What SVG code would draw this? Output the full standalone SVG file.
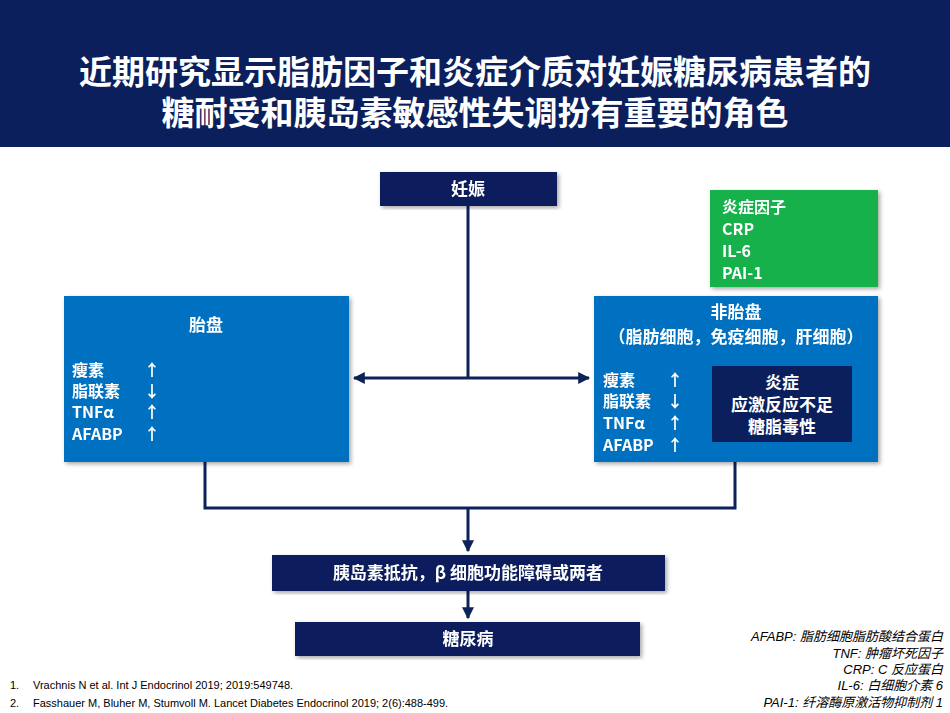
<svg xmlns="http://www.w3.org/2000/svg" width="950" height="713" viewBox="0 0 950 713">
<style>
text{font-family:"Noto Sans CJK SC","Liberation Sans",sans-serif;fill:#fff;font-weight:bold}
.t{font-size:33px}
.n{font-size:17px}
.m{font-size:16px}
.c{stroke:#0c2259;stroke-width:3;fill:none}
.ab{font-family:"Liberation Sans","Noto Sans CJK SC",sans-serif;font-size:13px;font-style:italic;font-weight:normal;fill:#000;text-anchor:end}
.fn{font-family:"Liberation Sans",sans-serif;font-size:11px;font-weight:normal;fill:#000}
</style>
<defs>
<marker id="a" viewBox="0 0 10 10" refX="9" refY="5" markerWidth="4" markerHeight="4" orient="auto-start-reverse"><path d="M0,0L10,5L0,10z" fill="#0c2259"/></marker>
<filter id="s"><feDropShadow dx="2" dy="2" stdDeviation="2" flood-opacity="0.35"/></filter>
</defs>
<rect width="950" height="713" fill="#fff"/>
<g id="title">
<rect x="0" y="0" width="950" height="147" fill="#0b1f5c"/>
<text class="t" x="475" y="84" text-anchor="middle">近期研究显示脂肪因子和炎症介质对妊娠糖尿病患者的</text>
<text class="t" x="475" y="125" text-anchor="middle">糖耐受和胰岛素敏感性失调扮有重要的角色</text>
</g>
<g id="connectors">
<path class="c" d="M468,206V378"/>
<path class="c" d="M468,378H354" marker-end="url(#a)"/>
<path class="c" d="M468,378H589" marker-end="url(#a)"/>
<path class="c" d="M205,462V508H735V462"/>
<path class="c" d="M468,508V551" marker-end="url(#a)"/>
<path class="c" d="M468,591V618" marker-end="url(#a)"/>
</g>
<g id="pregnancy" filter="url(#s)">
<rect x="380" y="172" width="177" height="34" fill="#0b1f5c"/>
<text class="n" x="468" y="195" text-anchor="middle">妊娠</text>
</g>
<g id="inflam-factors" filter="url(#s)">
<rect x="710" y="190" width="168" height="97" fill="#17b14c"/>
<text class="m" x="722" y="213">炎症因子</text>
<text class="m" x="722" y="235">CRP</text>
<text class="m" x="722" y="257">IL-6</text>
<text class="m" x="722" y="279">PAI-1</text>
</g>
<g id="placenta" filter="url(#s)">
<rect x="64" y="296" width="285" height="166" fill="#0070c0"/>
<text class="n" x="206" y="331" text-anchor="middle">胎盘</text>
<text class="m" x="72" y="376">瘦素</text><text class="m" x="144" y="376">↑</text>
<text class="m" x="72" y="397">脂联素</text><text class="m" x="144" y="397">↓</text>
<text class="m" x="72" y="418">TNFα</text><text class="m" x="144" y="418">↑</text>
<text class="m" x="72" y="440">AFABP</text><text class="m" x="144" y="440">↑</text>
</g>
<g id="non-placenta" filter="url(#s)">
<rect x="594" y="296" width="284" height="166" fill="#0070c0"/>
<text class="n" x="736" y="318" text-anchor="middle">非胎盘</text>
<text class="n" x="736" y="343" text-anchor="middle">（脂肪细胞，免疫细胞，肝细胞）</text>
<text class="m" x="603" y="386">瘦素</text><text class="m" x="667" y="386">↑</text>
<text class="m" x="603" y="407">脂联素</text><text class="m" x="667" y="407">↓</text>
<text class="m" x="603" y="429">TNFα</text><text class="m" x="667" y="429">↑</text>
<text class="m" x="603" y="451">AFABP</text><text class="m" x="667" y="451">↑</text>
</g>
<g id="inflammation">
<rect x="712" y="366" width="140" height="76" fill="#0b1f5c"/>
<text class="n" x="782" y="389" text-anchor="middle">炎症</text>
<text class="n" x="782" y="411" text-anchor="middle">应激反应不足</text>
<text class="n" x="782" y="433" text-anchor="middle">糖脂毒性</text>
</g>
<g id="resistance" filter="url(#s)">
<rect x="272" y="555" width="393" height="36" fill="#0b1f5c"/>
<text class="n" x="468" y="579" text-anchor="middle">胰岛素抵抗，β 细胞功能障碍或两者</text>
</g>
<g id="diabetes" filter="url(#s)">
<rect x="295" y="622" width="345" height="34" fill="#0b1f5c"/>
<text class="n" x="468" y="645" text-anchor="middle">糖尿病</text>
</g>
<g id="abbr">
<text class="ab" x="943" y="641">AFABP: 脂肪细胞脂肪酸结合蛋白</text>
<text class="ab" x="943" y="658">TNF: 肿瘤坏死因子</text>
<text class="ab" x="943" y="674">CRP: C 反应蛋白</text>
<text class="ab" x="943" y="690">IL-6: 白细胞介素 6</text>
<text class="ab" x="943" y="707">PAI-1: 纤溶酶原激活物抑制剂 1</text>
</g>
<g id="refs">
<text class="fn" x="10" y="689">1.</text><text class="fn" x="33" y="689">Vrachnis N et al. Int J Endocrinol 2019; 2019:549748.</text>
<text class="fn" x="10" y="707">2.</text><text class="fn" x="33" y="707">Fasshauer M, Bluher M, Stumvoll M. Lancet Diabetes Endocrinol 2019; 2(6):488-499.</text>
</g>
</svg>
